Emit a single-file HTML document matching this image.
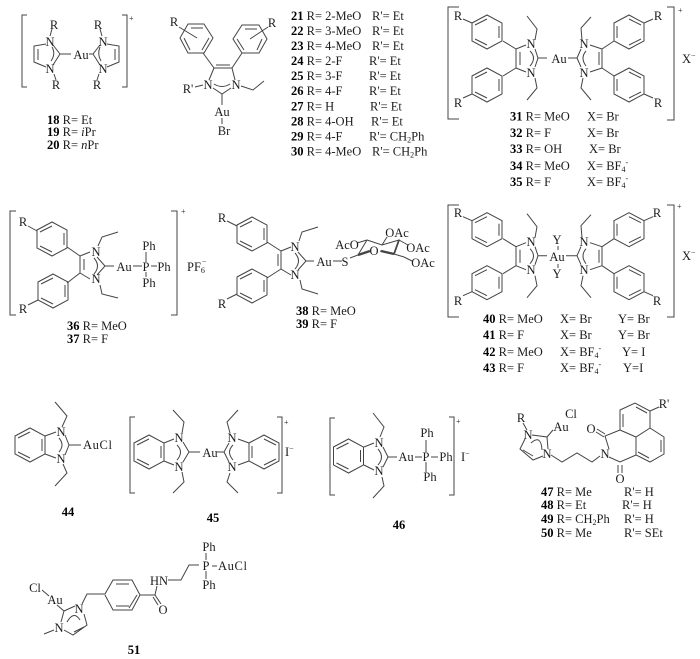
<!DOCTYPE html>
<html>
<head>
<meta charset="utf-8">
<style>
html,body{margin:0;padding:0;background:#fff;}
svg{display:block;filter:blur(.35px);}
text{font-family:"Liberation Serif",serif;font-size:12.5px;fill:#1c1c1c;}
.m{text-anchor:middle;}
.b{font-weight:bold;fill:#000;}
.s{font-size:8px;}
path{fill:none;stroke:#444;stroke-width:1;}
</style>
</head>
<body>
<svg width="700" height="659" viewBox="0 0 700 659" xmlns="http://www.w3.org/2000/svg">
<defs>
<path id="r" d="M-15,-9L0,-17L15,-9L15,9L0,17L-15,9ZM-12,-7L0,-13M12,-6L12,6M-12,7L0,13"/>
<path id="rr" d="M-15,-9L0,-17L15,-9L15,9L0,17L-15,9ZM12,-7L0,-13M-12,-6L-12,6M12,7L0,13"/>
</defs>

<!-- 18-20 -->
<path d="M27,15H22V87H27M122,15H127V87H122"/>
<path d="M46,44L34,46V62L46,67M38,49V60M53,45L60,54L53,65M60,54H71M89,54H93L100,45M93,54L100,65M107,44L119,46V62L107,67M115,49V60M52,47Q56,54 51,61M100,47Q97,54 101,61M52,29L50,36M54,74L56,80M100,29L102,36M99,74L97,80"/>
<text class="m" x="54" y="29">R</text><text class="m" x="56" y="89">R</text>
<text class="m" x="98" y="29">R</text><text class="m" x="97" y="89">R</text>
<text class="m" x="50" y="46">N</text><text class="m" x="50" y="73">N</text>
<text class="m" x="103" y="46">N</text><text class="m" x="103" y="73">N</text>
<text class="m" x="81" y="59">Au</text>
<text x="129" y="21" class="s">+</text>
<text x="47" y="124"><tspan class="b">18</tspan> R= Et</text>
<text x="47" y="136"><tspan class="b">19</tspan> R= <tspan font-style="italic">i</tspan>Pr</text>
<text x="47" y="149"><tspan class="b">20</tspan> R= <tspan font-style="italic">n</tspan>Pr</text>

<!-- 21-30 -->
<path d="M188,24H204L213,38L204,53H188L180,38ZM191,28H203M209,38L202,50M184,38L190,50M179,27L197,38M203,53L214,68M214,68H232M216,65H230M242,53L232,68M214,68L209,80M232,68L235,80M213,88L222,94L231,88M222,94V105M214,84Q222,89 230,84M195,87L203,85M222,118V124M242,25H259L267,39L259,53H242L233,39ZM245,29H257M237,39L244,50M262,39L257,50M250,39L268,27M241,86L253,90L264,81"/>
<text class="m" x="174" y="26">R</text>
<text class="m" x="188" y="93">R'</text>
<text class="m" x="208" y="89">N</text><text class="m" x="236" y="89">N</text>
<text class="m" x="222" y="116">Au</text><text class="m" x="224" y="135">Br</text>
<text class="m" x="272" y="27">R</text>
<text x="291" y="20"><tspan class="b">21</tspan> R= 2-MeO</text><text x="372" y="20">R'= Et</text>
<text x="291" y="35"><tspan class="b">22</tspan> R= 3-MeO</text><text x="372" y="35">R'= Et</text>
<text x="291" y="50"><tspan class="b">23</tspan> R= 4-MeO</text><text x="372" y="50">R'= Et</text>
<text x="291" y="65"><tspan class="b">24</tspan> R= 2-F</text><text x="369" y="65">R'= Et</text>
<text x="291" y="80"><tspan class="b">25</tspan> R= 3-F</text><text x="369" y="80">R'= Et</text>
<text x="291" y="95"><tspan class="b">26</tspan> R= 4-F</text><text x="369" y="95">R'= Et</text>
<text x="291" y="110.5"><tspan class="b">27</tspan> R= H</text><text x="370" y="110.5">R'= Et</text>
<text x="291" y="125.5"><tspan class="b">28</tspan> R= 4-OH</text><text x="371" y="125.5">R'= Et</text>
<text x="291" y="140.5"><tspan class="b">29</tspan> R= 4-F</text><text x="369" y="140.5">R'= CH<tspan class="s" dy="2">2</tspan><tspan dy="-2">Ph</tspan></text>
<text x="291" y="155.5"><tspan class="b">30</tspan> R= 4-MeO</text><text x="372" y="155.5">R'= CH<tspan class="s" dy="2">2</tspan><tspan dy="-2">Ph</tspan></text>

<!-- 31-35 -->
<g>
<use href="#r" x="487" y="32"/><use href="#r" x="487" y="85"/>
<use href="#rr" x="629" y="32"/><use href="#rr" x="629" y="85"/>
<path d="M463,19L472,23M463,98L472,94M503,41L516,49M503,76L516,68M516,49V68M520,52V65M516,49L526,45M516,68L526,72M535,49L538,58L535,67M538,58H547M530,51Q537,58 530,66M535,40L537,29L527,16M535,78L537,88L527,100M568,58H577M577,58L581,49M577,58L581,67M586,51Q580,58 586,66M602,49V68M599,52V65M602,49L590,45M602,68L590,72M602,49L614,41M602,68L614,76M644,23L653,19M644,94L653,98M582,40L581,28L591,17M583,78L581,88L591,100"/>
</g>
<path d="M459,7H448V119H459M667,7H674V120H667"/>
<text class="m" x="458" y="20">R</text><text class="m" x="458" y="107">R</text>
<text class="m" x="658" y="20">R</text><text class="m" x="658" y="107">R</text>
<text class="m" x="531" y="48">N</text><text class="m" x="531" y="77">N</text>
<text class="m" x="584" y="48">N</text><text class="m" x="584" y="77">N</text>
<text class="m" x="559" y="63">Au</text>
<text x="678" y="13" class="s">+</text>
<text x="682" y="63">X<tspan class="s" dy="-5">−</tspan></text>
<text x="510" y="120.5"><tspan class="b">31</tspan> R= MeO</text><text x="587" y="120.5">X= Br</text>
<text x="510" y="137"><tspan class="b">32</tspan> R= F</text><text x="587" y="137">X= Br</text>
<text x="510" y="153"><tspan class="b">33</tspan> R= OH</text><text x="589" y="153">X= Br</text>
<text x="510" y="170"><tspan class="b">34</tspan> R= MeO</text><text x="587" y="170">X= BF<tspan class="s" dy="2">4</tspan><tspan class="s" dy="-7">-</tspan></text>
<text x="510" y="186"><tspan class="b">35</tspan> R= F</text><text x="587" y="186">X= BF<tspan class="s" dy="2">4</tspan><tspan class="s" dy="-7">-</tspan></text>

<!-- 36-37 -->
<use href="#r" x="52" y="239"/><use href="#r" x="53" y="291"/>
<path d="M16,211H10V315H16M171,211H177V315H171"/>
<path d="M28,226L37,231M28,305L38,300M67,247L80,256M67,283L80,273M80,256V273M84,259V270M80,256L90,252M80,273L90,279M97,257L105,266L97,275M105,266H114M94,258Q101,266 94,274M98,246L102,237L118,232M100,285L102,294L118,298M133,266H142M146,252V262M146,272V277M151,266H157"/>
<text class="m" x="23" y="226">R</text><text class="m" x="23" y="313">R</text>
<text class="m" x="96" y="256">N</text><text class="m" x="96" y="283">N</text>
<text class="m" x="124" y="271">Au</text>
<text class="m" x="146" y="271">P</text>
<text class="m" x="149" y="250">Ph</text><text class="m" x="149" y="287">Ph</text><text class="m" x="164" y="271">Ph</text>
<text x="187" y="271">PF<tspan class="s" dy="2">6</tspan><tspan class="s" dy="-9" dx="-3">−</tspan></text>
<text x="181" y="214" class="s">+</text>
<text x="67" y="330"><tspan class="b">36</tspan> R= MeO</text>
<text x="67" y="343"><tspan class="b">37</tspan> R= F</text>

<!-- 38-39 -->
<use href="#r" x="252" y="234"/><use href="#r" x="252" y="286"/>
<path d="M227,221L237,226M227,299L237,294M267,242L281,251M267,278L281,269M281,251V269M278,254V266M281,251L291,247M281,269L291,275M298,252L306,261L298,270M306,261H314M295,253Q302,261 295,269M299,241L302,232L318,227M300,280L302,289L318,294M333,261H342M350,258L358,255L367,240L382,245L399,240L394,254L380,251M357,243L367,240M382,245L387,237M399,240L408,245M394,254L404,257L412,261"/>
<path d="M358,255L370,251" style="stroke-width:2.4"/><path d="M394,254L381,251" style="stroke-width:2.4"/><path d="M399,240L394,254" style="stroke-width:1.8"/>
<text class="m" x="222" y="222">R</text><text class="m" x="222" y="308">R</text>
<text class="m" x="295" y="251">N</text><text class="m" x="295" y="279">N</text>
<text class="m" x="324" y="266">Au</text><text class="m" x="345" y="266">S</text>
<text class="m" x="347" y="249">AcO</text><text class="m" x="374" y="255">O</text>
<text class="m" x="397" y="237">OAc</text><text class="m" x="418" y="252">OAc</text><text class="m" x="423" y="267">OAc</text>
<text x="296" y="315"><tspan class="b">38</tspan> R= MeO</text>
<text x="296" y="328"><tspan class="b">39</tspan> R= F</text>

<!-- 40-43 -->
<g transform="translate(0,197.7)">
<use href="#r" x="487" y="32"/><use href="#r" x="487" y="85"/>
<use href="#rr" x="629" y="32"/><use href="#rr" x="629" y="85"/>
<path d="M463,19L472,23M463,98L472,94M503,41L516,49M503,76L516,68M516,49V68M520,52V65M516,49L526,45M516,68L526,72M535,49L538,58L535,67M538,58H547M530,51Q537,58 530,66M535,40L537,29L527,16M535,78L537,88L527,100M566,58H577M577,58L581,49M577,58L581,67M586,51Q580,58 586,66M602,49V68M599,52V65M602,49L590,45M602,68L590,72M602,49L614,41M602,68L614,76M644,23L653,19M644,94L653,98M582,40L581,28L591,17M583,78L581,88L591,100"/>
</g>
<path d="M558,246V250M558,264V268"/>
<path d="M459,205H448V317H459M667,205H674V317H667"/>
<text class="m" x="458" y="217">R</text><text class="m" x="458" y="305">R</text>
<text class="m" x="657" y="217">R</text><text class="m" x="657" y="305">R</text>
<text class="m" x="531" y="246">N</text><text class="m" x="531" y="274">N</text>
<text class="m" x="584" y="246">N</text><text class="m" x="584" y="274">N</text>
<text class="m" x="557" y="261">Au</text>
<text class="m" x="557" y="244">Y</text><text class="m" x="557" y="278">Y</text>
<text x="677" y="209" class="s">+</text>
<text x="682" y="260">X<tspan class="s" dy="-5">−</tspan></text>
<text x="483" y="323"><tspan class="b">40</tspan> R= MeO</text><text x="560" y="323">X= Br</text><text x="618" y="323">Y= Br</text>
<text x="483" y="339"><tspan class="b">41</tspan> R= F</text><text x="560" y="339">X= Br</text><text x="618" y="339">Y= Br</text>
<text x="483" y="356"><tspan class="b">42</tspan> R= MeO</text><text x="560" y="356">X= BF<tspan class="s" dy="2">4</tspan><tspan class="s" dy="-7">-</tspan></text><text x="622" y="356">Y= I</text>
<text x="483" y="372"><tspan class="b">43</tspan> R= F</text><text x="560" y="372">X= BF<tspan class="s" dy="2">4</tspan><tspan class="s" dy="-7">-</tspan></text><text x="623" y="372">Y=I</text>

<!-- 44 -->
<use href="#r" x="30" y="445"/>
<path d="M45,436L56,432M45,454L56,458M65,435L69,445L65,455M69,445H81M59,438Q65,445 59,452M62,427L67,416L55,402M63,464L67,473L55,486"/>
<text class="m" x="61" y="436">N</text><text class="m" x="61" y="463">N</text>
<text x="83" y="449" textLength="29">AuCl</text>
<text class="m b" x="68" y="516">44</text>

<!-- 45 -->
<path d="M135,417H130V493H135M277,417H282V493H277"/>
<use href="#r" x="149" y="452"/><use href="#rr" x="264" y="452"/>
<path d="M164,443L174,439M164,461L174,465M183,442L189,452L183,462M189,452H200M177,445Q184,452 177,460M217,452H224L229,443M224,452L229,462M233,445Q226,452 233,460M238,439L249,443M238,465L249,461M182,433L184,422L173,410M182,472L184,482L173,493M230,433L227,422L238,410M230,473L227,482L238,493"/>
<text class="m" x="179" y="442">N</text><text class="m" x="179" y="471">N</text>
<text class="m" x="232" y="442">N</text><text class="m" x="232" y="471">N</text>
<text class="m" x="210" y="457">Au</text>
<text x="284" y="425" class="s">+</text>
<text x="285" y="456">I<tspan class="s" dy="-5">−</tspan></text>
<text class="m b" x="213" y="522">45</text>

<!-- 46 -->
<path d="M335,418H330V495H335M449,417H454V495H449"/>
<use href="#r" x="348.5" y="456"/>
<path d="M364,447L374,443M364,465L374,470M383,447L388,457L383,467M388,457H397M378,449Q385,457 378,465M380,437L384,427L373,413M382,477L384,486L373,498M415,457H422M431,457H438M426,440V452M426,462V472"/>
<text class="m" x="379" y="447">N</text><text class="m" x="379" y="475">N</text>
<text class="m" x="406" y="461">Au</text><text class="m" x="426" y="461">P</text>
<text class="m" x="427" y="437">Ph</text><text class="m" x="430" y="481">Ph</text><text class="m" x="446" y="461">Ph</text>
<text x="456" y="424" class="s">+</text>
<text x="461" y="461">I<tspan class="s" dy="-5">−</tspan></text>
<text class="m b" x="399" y="529">46</text>

<!-- 47-50 -->
<path d="M523,423L527,430M532,435L547,437L548,449M547,437L553,430M525,439L520,449L533,460L543,456M523,450L533,456M531,443Q541,434 542,450M551,455L562,462L577,453L592,462L600,456M609,449L605,436L620,430V410L635,403L650,411V428L636,437L620,430M623,414V427M636,407L647,413M650,411L659,407M650,428L664,437V454L650,462L636,455V437M636,455L620,462L609,457M661,440V452M649,458L638,452M597,429L605,434M596,432L604,437M618,465V473M622,465V473"/>
<text class="m" x="521" y="422">R</text>
<text class="m" x="528" y="439">N</text><text class="m" x="547" y="458">N</text>
<text class="m" x="561" y="431">Au</text><text class="m" x="571" y="418">Cl</text>
<text class="m" x="605" y="458">N</text>
<text class="m" x="591" y="433">O</text><text class="m" x="620" y="483">O</text>
<text class="m" x="664" y="408">R'</text>
<text x="541" y="496"><tspan class="b">47</tspan> R= Me</text><text x="624" y="496">R'= H</text>
<text x="541" y="509"><tspan class="b">48</tspan> R= Et</text><text x="622" y="509">R'= H</text>
<text x="541" y="523"><tspan class="b">49</tspan> R= CH<tspan class="s" dy="2">2</tspan><tspan dy="-2">Ph</tspan></text><text x="624" y="523">R'= H</text>
<text x="541" y="537"><tspan class="b">50</tspan> R= Me</text><text x="624" y="537">R'= SEt</text>

<!-- 51 -->
<path d="M42,590L49,596M57,605L64,611L75,606M64,611L61,622M84,614L87,625L73,635L64,630M84,627L74,632M67,622Q74,610 80,620M44,634L54,630M82,604L87,594H105L113,580H132L140,595L132,610H113L105,595M116,584H129M116,606H129M137,595L129,608M140,595H155L157,586M155,595L161,604M153,597L158,605M168,580H181L189,565H199M206,553V560M206,571V579M212,566H217"/>
<text class="m" x="35" y="592">Cl</text><text class="m" x="55" y="604">Au</text>
<text class="m" x="79" y="613">N</text><text class="m" x="59" y="632">N</text>
<text class="m" x="159" y="585">HN</text><text class="m" x="163" y="614">O</text>
<text class="m" x="206" y="570">P</text>
<text class="m" x="209" y="551">Ph</text><text class="m" x="209" y="589">Ph</text>
<text x="218" y="570" textLength="29">AuCl</text>
<text class="m b" x="134" y="654">51</text>
</svg>
</body>
</html>
